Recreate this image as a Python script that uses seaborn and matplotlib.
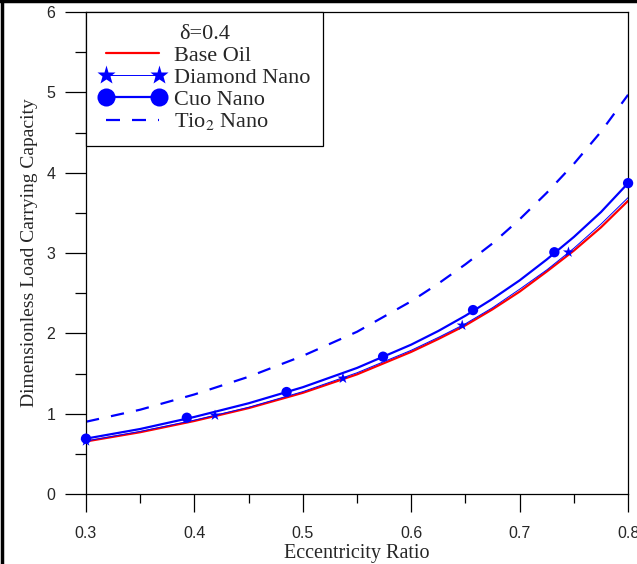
import numpy as np
import pandas as pd
import matplotlib
matplotlib.use("Agg")
import matplotlib.pyplot as plt
import seaborn as sns
from matplotlib.lines import Line2D
from matplotlib.ticker import MultipleLocator

# valores
ecc = [0.30, 0.35, 0.40, 0.45, 0.50, 0.55, 0.60, 0.625, 0.65, 0.675, 0.70,
       0.725, 0.75, 0.775, 0.80]
base_oil = [0.655, 0.77, 0.91, 1.07, 1.26, 1.49, 1.77, 1.93, 2.10, 2.30, 2.52,
            2.77, 3.03, 3.32, 3.65]
diamond = [0.66, 0.78, 0.92, 1.08, 1.275, 1.51, 1.79, 1.95, 2.12, 2.32, 2.55,
           2.79, 3.06, 3.36, 3.69]
cuo = [0.69, 0.81, 0.96, 1.13, 1.33, 1.57, 1.86, 2.03, 2.22, 2.43, 2.66,
       2.92, 3.20, 3.51, 3.87]
tio2 = [0.90, 1.05, 1.24, 1.46, 1.72, 2.02, 2.40, 2.62, 2.86, 3.12, 3.42,
        3.75, 4.11, 4.51, 4.97]

# posicoes dos marcadores
diamond_mk_x = [0.30, 0.419, 0.537, 0.647, 0.745]
diamond_mk_y = [0.66, 0.98, 1.44, 2.10, 3.01]
cuo_mk_x = [0.30, 0.393, 0.485, 0.574, 0.657, 0.732, 0.80]
cuo_mk_y = [0.69, 0.95, 1.27, 1.71, 2.29, 3.01, 3.87]

legend_title = "δ=0.4"
labels = ["Base Oil", "Diamond Nano", "Cuo Nano", "Tio$_2$ Nano"]

sns.set_style("ticks")
plt.rcParams["font.family"] = ["Liberation Serif", "DejaVu Serif"]
plt.rcParams["mathtext.fontset"] = "stix"

fig = plt.figure(figsize=(6.37, 5.64), dpi=100)
ax = fig.add_axes([0.135, 0.124, 0.851, 0.8547])

df = pd.DataFrame({"ecc": ecc, "base": base_oil, "diamond": diamond,
                   "cuo": cuo, "tio2": tio2})

sns.lineplot(data=df, x="ecc", y="tio2", ax=ax, color="#0000ff", lw=1.6,
             linestyle=(0, (6, 5.5)))
sns.lineplot(data=df, x="ecc", y="cuo", ax=ax, color="#0000ff", lw=1.6)
sns.lineplot(data=df, x="ecc", y="base", ax=ax, color="#ff0000", lw=1.6)
sns.lineplot(data=df, x="ecc", y="diamond", ax=ax, color="#0000ff", lw=0.7)

sns.scatterplot(x=cuo_mk_x, y=cuo_mk_y, ax=ax, color="#0000ff", marker="o",
                s=55, edgecolor="none", zorder=5, clip_on=False)
sns.scatterplot(x=diamond_mk_x, y=diamond_mk_y, ax=ax, color="#0000ff", marker="*",
                s=70, edgecolor="none", zorder=5, clip_on=False)

ax.set_xlim(0.3, 0.8)
ax.set_ylim(0, 6)
ax.xaxis.set_major_locator(MultipleLocator(0.1))
ax.xaxis.set_minor_locator(MultipleLocator(0.05))
ax.yaxis.set_major_locator(MultipleLocator(1))
ax.yaxis.set_minor_locator(MultipleLocator(0.5))
ax.tick_params(which="both", direction="out", width=0.9, color="black",
               labelsize=11.5, labelfontfamily="Liberation Sans")
ax.tick_params(axis="y", which="major", length=15, pad=7)
ax.tick_params(axis="y", which="minor", length=8)
ax.tick_params(axis="x", which="major", length=13, pad=10)
ax.tick_params(axis="x", which="minor", length=6.7)
for s in ax.spines.values():
    s.set_linewidth(0.9)
    s.set_color("black")

ax.set_xlabel("Eccentricity Ratio", fontsize=14.5, labelpad=2)
ax.set_ylabel("Dimensionless Load Carrying Capacity", fontsize=14, labelpad=6)

handles = [
    Line2D([], [], color="#ff0000", lw=1.6),
    Line2D([], [], color="#0000ff", lw=0.7, marker="*", ms=14, mec="none"),
    Line2D([], [], color="#0000ff", lw=1.6, marker="o", ms=13, mec="none"),
    Line2D([], [], color="#0000ff", lw=1.6, linestyle=(0, (6.3, 5.4))),
]
leg = ax.legend(handles, labels, title=legend_title, loc="upper left",
                bbox_to_anchor=(0, 1), borderaxespad=0, fancybox=False,
                frameon=True, edgecolor="black", fontsize=16, title_fontsize=16,
                handlelength=3.0, handletextpad=0.35, labelspacing=0.06,
                borderpad=0.6, numpoints=2)
leg.get_frame().set_linewidth(0.9)
leg.get_frame().set_alpha(1)

# moldura da figura
fig.add_artist(Line2D([0.003, 0.003], [0, 1], color="black", lw=2.5,
                      transform=fig.transFigure))
fig.add_artist(Line2D([0, 1], [0.998, 0.998], color="black", lw=2.5,
                      transform=fig.transFigure))

fig.savefig("out.png", dpi=100)
